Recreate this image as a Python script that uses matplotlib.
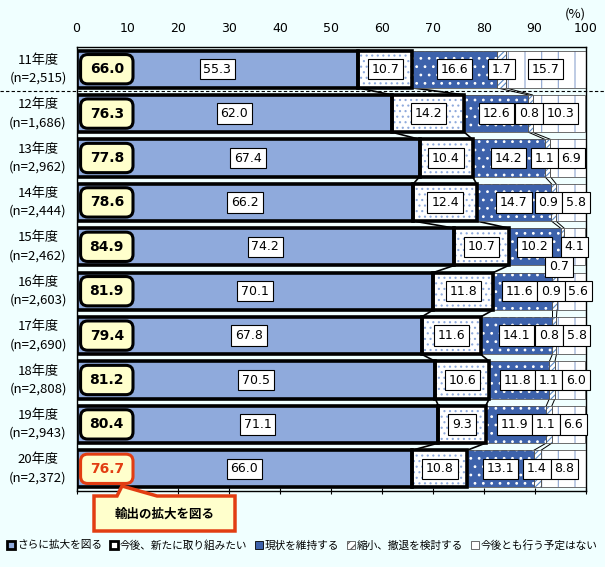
import matplotlib.pyplot as plt
from matplotlib.patches import Patch, Polygon, FancyBboxPatch
from matplotlib.transforms import blended_transform_factory

plt.rcParams['font.family'] = ['Noto Sans CJK JP', 'DejaVu Sans']
plt.rcParams['hatch.linewidth'] = 0.8

# data
years = ["11年度", "12年度", "13年度", "14年度", "15年度",
         "16年度", "17年度", "18年度", "19年度", "20年度"]
sizes = ["(n=2,515)", "(n=1,686)", "(n=2,962)", "(n=2,444)", "(n=2,462)",
         "(n=2,603)", "(n=2,690)", "(n=2,808)", "(n=2,943)", "(n=2,372)"]
expand_more = [55.3, 62.0, 67.4, 66.2, 74.2, 70.1, 67.8, 70.5, 71.1, 66.0]
new_start = [10.7, 14.2, 10.4, 12.4, 10.7, 11.8, 11.6, 10.6, 9.3, 10.8]
keep_same = [16.6, 12.6, 14.2, 14.7, 10.2, 11.6, 14.1, 11.8, 11.9, 13.1]
shrink = [1.7, 0.8, 1.1, 0.9, 0.7, 0.9, 0.8, 1.1, 1.1, 1.4]
no_plan = [15.7, 10.3, 6.9, 5.8, 4.1, 5.6, 5.8, 6.0, 6.6, 8.8]
totals = [66.0, 76.3, 77.8, 78.6, 84.9, 81.9, 79.4, 81.2, 80.4, 76.7]
series_names = ["さらに拡大を図る", "今後、新たに取り組みたい", "現状を維持する",
                "縮小、撤退を検討する", "今後とも行う予定はない"]
callout_text = "輸出の拡大を図る"

series = [expand_more, new_start, keep_same, shrink, no_plan]
bg = '#F0FFFF'
red = '#E23D12'
face = ['#8FAADC', '#FFFFFF', '#3D62AB', '#FFFFFF', '#FFFFFF']
hatch_col = [None, '#8FAADC', '#FFFFFF', '#5A8AC6', '#8DA5CF']
hatches = [None, '...', '..', '//////', '|']
num_font = ['DejaVu Sans']

W, H = 605, 567
fig = plt.figure(figsize=(W / 100, H / 100), dpi=100, facecolor=bg)
ax = fig.add_axes([76.5 / W, 1 - 491 / H, 509 / W, 444 / H], facecolor=bg)

ypos = list(range(len(years)))
bh = 0.84
lefts = [0.0] * len(years)
bounds = []
labels = {}
for k, vals in enumerate(series):
    ax.barh(ypos, vals, left=lefts, height=bh, color=face[k], linewidth=0, zorder=2)
    if hatches[k]:
        ax.barh(ypos, vals, left=lefts, height=bh, facecolor='none',
                edgecolor=hatch_col[k], hatch=hatches[k], linewidth=0, zorder=2.5)
    if k < 2:
        ax.barh(ypos, vals, left=lefts, height=bh, facecolor='none',
                edgecolor='black', linewidth=2.6, zorder=3.5)
    else:
        ax.barh(ypos, vals, left=lefts, height=bh, facecolor='none',
                edgecolor='#555555', linewidth=0.6, zorder=3)
    for i, v in enumerate(vals):
        xc = lefts[i] + v / 2
        yc = i
        if (i, k) == (4, 3):
            xc, yc = 94.8, i + 0.45
        labels[(i, k)] = ax.text(
            xc, yc, f"{v:.1f}", ha='center', va='center', fontsize=9, zorder=6,
            family=num_font,
            bbox=dict(boxstyle='square,pad=0.3', fc='white', ec='black', lw=0.8))
    lefts = [l + v for l, v in zip(lefts, vals)]
    bounds.append(list(lefts))

# connector lines between bars
for k in range(4):
    for i in range(len(years) - 1):
        ax.plot([bounds[k][i], bounds[k][i + 1]], [i + bh / 2, i + 1 - bh / 2],
                color='black', lw=1.2 if k < 2 else 0.7, zorder=1.5)

ax.set_xlim(0, 100)
ax.set_ylim(len(years) - 0.5, -0.5)

# push apart overlapping labels on the right-hand segments
fig.canvas.draw()
renderer = fig.canvas.get_renderer()
px_per_unit = ax.transData.transform((1, 0))[0] - ax.transData.transform((0, 0))[0]
for i in range(len(years)):
    row = [labels[(i, k)] for k in (2, 3, 4) if (i, k) != (4, 3)]
    ext = [t.get_bbox_patch().get_window_extent(renderer) for t in row]
    lo = [e.x0 for e in ext]
    hi = [e.x1 for e in ext]
    for _ in range(20):
        for j in range(len(row) - 1):
            ov = hi[j] - lo[j + 1]
            if ov > 0:
                lo[j] -= ov / 2
                hi[j] -= ov / 2
                lo[j + 1] += ov / 2
                hi[j + 1] += ov / 2
    for t, e, l in zip(row, ext, lo):
        x, y = t.get_position()
        t.set_position((x + (l - e.x0) / px_per_unit, y))

# totals boxes
for i, t in enumerate(totals):
    col = red if i == len(totals) - 1 else 'black'
    box = FancyBboxPatch((0.8, i - 0.33), 10.3, 0.66,
                         boxstyle='round,pad=0,rounding_size=1.4',
                         mutation_aspect=5.09 / 44.4,
                         fc='#FFFFCC', ec=col, lw=2.2, zorder=5)
    ax.add_patch(box)
    ax.text(5.95, i, f"{t:.1f}", ha='center', va='center', fontsize=10,
            fontweight='bold', color=col, zorder=6, family=num_font)

ax.set_xticks(range(0, 101, 10))
ax.tick_params(axis='x', top=False, labeltop=True, bottom=True, labelbottom=False,
               direction='inout', length=5, labelsize=9, pad=6)
for lab in ax.get_xticklabels():
    lab.set_family(num_font)
ax.set_yticks([])
for s in ax.spines.values():
    s.set_linewidth(1.0)

ytr = ax.get_yaxis_transform()
for i, (y, n) in enumerate(zip(years, sizes)):
    ax.text(-0.0756, i, y + "\n" + n, transform=ytr, ha='center', va='center',
            fontsize=9.5, linespacing=1.5)

# dashed separator between 11 and 12
sep_tr = blended_transform_factory(fig.transFigure, ax.transData)
ax.plot([0, 1], [0.5, 0.5], transform=sep_tr, color='black', lw=0.8,
        ls=(0, (3, 2)), clip_on=False, zorder=4)

fig.text(575 / W, 1 - 14 / H, "(%)", ha='center', va='center', fontsize=9.5)


def px(x, y):
    return (x / W, 1 - y / H)


call = Polygon([px(94, 496), px(117, 496), px(122, 486), px(157, 496), px(235, 496),
                px(235, 531), px(94, 531)], closed=True, transform=fig.transFigure,
               fc='#FFFFCC', ec=red, lw=2.5, zorder=10)
fig.add_artist(call)
fig.text(165 / W, 1 - 514 / H, callout_text, ha='center', va='center',
         fontsize=9, fontweight='bold', zorder=11)

handles = [
    Patch(facecolor=face[0], edgecolor='black', lw=2),
    Patch(facecolor='white', edgecolor='black', lw=2),
    Patch(facecolor=face[2], edgecolor='black', lw=0.6),
    Patch(facecolor='white', edgecolor='#555555', lw=0.6, hatch='////'),
    Patch(facecolor='white', edgecolor='#555555', lw=0.6),
]
fig.legend(handles, series_names, loc='center', bbox_to_anchor=(0.5, 1 - 545 / H),
           ncol=5, frameon=False, fontsize=7.7, handlelength=0.75, handleheight=0.75,
           handletextpad=0.2, columnspacing=0.7, borderaxespad=0, borderpad=0)

fig.savefig("out.png", dpi=100, facecolor=bg)
